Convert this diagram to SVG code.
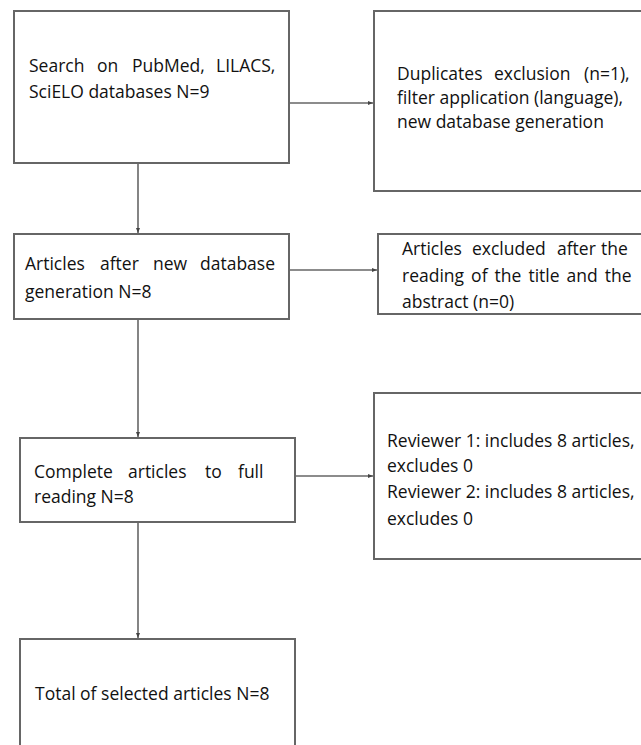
<svg xmlns="http://www.w3.org/2000/svg" width="641" height="745" viewBox="0 0 641 745">
<style>
.box{fill:#fff;stroke:#666;stroke-width:2}
.t{font-family:"Open Sans","Noto Sans",sans-serif;font-size:17.5px;fill:#111}
.c{stroke:#666;stroke-width:1.6;fill:none}
</style>
<defs>
<marker id="ah" markerWidth="6" markerHeight="6" refX="5" refY="3" orient="auto" markerUnits="userSpaceOnUse">
<path d="M0,1 L5,3 L0,5 z" fill="#444"/>
</marker>
</defs>
<rect width="641" height="745" fill="#fff"/>
<g id="connectors">
<line class="c" x1="138" y1="163" x2="138" y2="233" marker-end="url(#ah)"/>
<line class="c" x1="289" y1="103" x2="373" y2="103" marker-end="url(#ah)"/>
<line class="c" x1="289" y1="270" x2="377" y2="270" marker-end="url(#ah)"/>
<line class="c" x1="138" y1="319" x2="138" y2="437" marker-end="url(#ah)"/>
<line class="c" x1="295" y1="476" x2="373" y2="476" marker-end="url(#ah)"/>
<line class="c" x1="138" y1="522" x2="138" y2="638" marker-end="url(#ah)"/>
</g>
<g id="n1">
<rect class="box" x="14" y="11" width="275" height="152"/>
<text class="t" y="72"><tspan x="29">Search</tspan><tspan x="97">on</tspan><tspan x="132">PubMed,</tspan><tspan x="216">LILACS,</tspan></text>
<text class="t" x="29" y="98">SciELO databases N=9</text>
</g>
<g id="n2">
<rect class="box" x="374" y="11" width="280" height="180"/>
<text class="t" y="80"><tspan x="397">Duplicates</tspan><tspan x="494">exclusion</tspan><tspan x="584">(n=1),</tspan></text>
<text class="t" x="397" y="104">filter application (language),</text>
<text class="t" x="397" y="128">new database generation</text>
</g>
<g id="n3">
<rect class="box" x="14" y="234" width="275" height="85"/>
<text class="t" y="270"><tspan x="25">Articles</tspan><tspan x="100">after</tspan><tspan x="153">new</tspan><tspan x="200">database</tspan></text>
<text class="t" x="25" y="298">generation N=8</text>
</g>
<g id="n4">
<rect class="box" x="378" y="234" width="280" height="80"/>
<text class="t" y="255"><tspan x="402">Articles</tspan><tspan x="472">excluded</tspan><tspan x="557">after</tspan><tspan x="601">the</tspan></text>
<text class="t" x="402" y="282" style="word-spacing:2.5px">reading of the title and the</text>
<text class="t" x="402" y="308">abstract (n=0)</text>
</g>
<g id="n5">
<rect class="box" x="20" y="438" width="275" height="84"/>
<text class="t" y="478"><tspan x="34">Complete</tspan><tspan x="128">articles</tspan><tspan x="205">to</tspan><tspan x="238">full</tspan></text>
<text class="t" x="34" y="503">reading N=8</text>
</g>
<g id="n6">
<rect class="box" x="374" y="393" width="280" height="166"/>
<text class="t" x="387" y="447">Reviewer 1: includes 8 articles,</text>
<text class="t" x="387" y="472">excludes 0</text>
<text class="t" x="387" y="498">Reviewer 2: includes 8 articles,</text>
<text class="t" x="387" y="525">excludes 0</text>
</g>
<g id="n7">
<rect class="box" x="20" y="639" width="275" height="120"/>
<text class="t" x="35" y="700">Total of selected articles N=8</text>
</g>
</svg>
